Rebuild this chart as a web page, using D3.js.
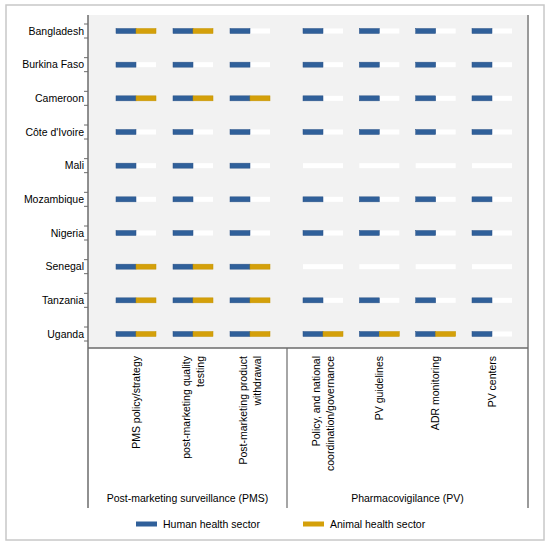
<!DOCTYPE html>
<html>
<head>
<meta charset="utf-8">
<script src="https://cdn.jsdelivr.net/npm/d3@7"></script>
<style>
  body { margin: 0; background: #fff; }
  svg text { font-family: "Liberation Sans", Arial, sans-serif; fill: #000; }
</style>
</head>
<body>
<svg id="chart" width="550" height="545"></svg>
<script>
// countries, top to bottom
const countries = ["Bangladesh", "Burkina Faso", "Cameroon", "Côte d'Ivoire", "Mali",
                   "Mozambique", "Nigeria", "Senegal", "Tanzania", "Uganda"];

// indicator columns per group
const pmsColumns = ["PMS policy/strategy", "post-marketing quality testing", "Post-marketing product withdrawal"];
const pvColumns = ["Policy, and national coordination/governance", "PV guidelines", "ADR monitoring", "PV centers"];

// wrapped labels for the columns (one array of lines per column)
const columnLabels = {
  "PMS policy/strategy": ["PMS policy/strategy"],
  "post-marketing quality testing": ["post-marketing quality", "testing"],
  "Post-marketing product withdrawal": ["Post-marketing product", "withdrawal"],
  "Policy, and national coordination/governance": ["Policy, and national", "coordination/governance"],
  "PV guidelines": ["PV guidelines"],
  "ADR monitoring": ["ADR monitoring"],
  "PV centers": ["PV centers"]
};

const groups = [
  { name: "Post-marketing surveillance (PMS)", columns: pmsColumns },
  { name: "Pharmacovigilance (PV)", columns: pvColumns }
];

// 1 = present, 0 = absent; one row per country, columns PMS(3) then PV(4)
const humanSector = [
  [1, 1, 1, 1, 1, 1, 1],
  [1, 1, 1, 1, 1, 1, 1],
  [1, 1, 1, 1, 1, 1, 1],
  [1, 1, 1, 1, 1, 1, 1],
  [1, 1, 1, 0, 0, 0, 0],
  [1, 1, 1, 1, 1, 1, 1],
  [1, 1, 1, 1, 1, 1, 1],
  [1, 1, 1, 0, 0, 0, 0],
  [1, 1, 1, 1, 1, 1, 1],
  [1, 1, 1, 1, 1, 1, 1]
];
const animalSector = [
  [1, 1, 0, 0, 0, 0, 0],
  [0, 0, 0, 0, 0, 0, 0],
  [1, 1, 1, 0, 0, 0, 0],
  [0, 0, 0, 0, 0, 0, 0],
  [0, 0, 0, 0, 0, 0, 0],
  [0, 0, 0, 0, 0, 0, 0],
  [0, 0, 0, 0, 0, 0, 0],
  [1, 1, 1, 0, 0, 0, 0],
  [1, 1, 1, 0, 0, 0, 0],
  [1, 1, 1, 1, 1, 1, 0]
];

const sectors = ["Human health sector", "Animal health sector"];
const sectorColors = ["#30609a", "#d4a00a"];

const svg = d3.select("svg#chart");

// outer frame
svg.append("rect")
  .attr("x", 6).attr("y", 5)
  .attr("width", 538).attr("height", 535)
  .attr("fill", "none")
  .attr("stroke", "#c8c8c8")
  .attr("stroke-width", 1.5);

const plot = { left: 88, right: 528, top: 15, bottom: 348, sep: 287, base: 508 };

svg.append("rect")
  .attr("x", plot.left).attr("y", plot.top)
  .attr("width", plot.right - plot.left).attr("height", plot.bottom - plot.top)
  .attr("fill", "#f2f2f2");

const y = d3.scalePoint()
  .domain(countries)
  .range([31, 334]);

// one x scale per group
const xScales = [
  d3.scalePoint().domain(pmsColumns).range([136, 250]),
  d3.scalePoint().domain(pvColumns).range([323, 492])
];

const allColumns = pmsColumns.concat(pvColumns);
function colX(col) {
  return pmsColumns.includes(col) ? xScales[0](col) : xScales[1](col);
}

const segW = 20, segH = 5;

// cells
const cells = [];
countries.forEach(function(c, i) {
  allColumns.forEach(function(col, j) {
    cells.push({ country: c, column: col, human: humanSector[i][j], animal: animalSector[i][j] });
  });
});

const cellG = svg.append("g").attr("class", "cells")
  .selectAll("g")
  .data(cells)
  .enter().append("g")
  .attr("transform", function(d) { return "translate(" + colX(d.column) + "," + y(d.country) + ")"; });

cellG.append("rect")
  .attr("x", -segW).attr("y", -segH / 2)
  .attr("width", segW * 2).attr("height", segH)
  .attr("fill", "#fff");

cellG.filter(function(d) { return d.human; })
  .append("rect")
  .attr("x", -segW).attr("y", -segH / 2)
  .attr("width", segW).attr("height", segH)
  .attr("fill", sectorColors[0])
  .attr("stroke", "#2a5287").attr("stroke-width", 0.5);

cellG.filter(function(d) { return d.animal; })
  .append("rect")
  .attr("x", 0).attr("y", -segH / 2)
  .attr("width", segW).attr("height", segH)
  .attr("fill", sectorColors[1])
  .attr("stroke", "#c29200").attr("stroke-width", 0.5);

// axes lines
const lineColor = "#6b6b6b";
svg.append("line")
  .attr("x1", plot.left).attr("x2", plot.left)
  .attr("y1", plot.top).attr("y2", plot.base)
  .attr("stroke", lineColor).attr("stroke-width", 1.5);
svg.append("line")
  .attr("x1", plot.right).attr("x2", plot.right)
  .attr("y1", plot.top).attr("y2", plot.base)
  .attr("stroke", "#9a9a9a").attr("stroke-width", 2);
svg.append("line")
  .attr("x1", plot.left).attr("x2", plot.right)
  .attr("y1", plot.bottom).attr("y2", plot.bottom)
  .attr("stroke", lineColor).attr("stroke-width", 1.5);
svg.append("line")
  .attr("x1", plot.sep).attr("x2", plot.sep)
  .attr("y1", plot.bottom).attr("y2", plot.base)
  .attr("stroke", lineColor).attr("stroke-width", 1.2);

// y ticks (above and below each row) and labels
const yAxis = svg.append("g").attr("class", "y-axis");
countries.forEach(function(c) {
  [-7, 7].forEach(function(off) {
    yAxis.append("line")
      .attr("x1", plot.left - 4).attr("x2", plot.left)
      .attr("y1", y(c) + off).attr("y2", y(c) + off)
      .attr("stroke", lineColor).attr("stroke-width", 1);
  });
});
yAxis.selectAll("text")
  .data(countries)
  .enter().append("text")
  .attr("x", plot.left - 4)
  .attr("y", function(d) { return y(d); })
  .attr("dy", "0.35em")
  .attr("text-anchor", "end")
  .style("font-size", "10.5px")
  .text(function(d) { return d; });

// column labels, rotated
const labelTop = 356, lineGap = 14;
allColumns.forEach(function(col) {
  const lines = columnLabels[col];
  const x0 = colX(col) - (lines.length - 1) * lineGap / 2;
  lines.forEach(function(line, k) {
    const lx = x0 + k * lineGap;
    svg.append("text")
      .attr("transform", "translate(" + lx + "," + labelTop + ") rotate(-90)")
      .attr("dy", "0.35em")
      .attr("text-anchor", "end")
      .style("font-size", "10.5px")
      .text(line);
  });
});

// group labels
const groupBounds = [[plot.left, plot.sep], [plot.sep, plot.right]];
svg.selectAll("text.group")
  .data(groups)
  .enter().append("text")
  .attr("class", "group")
  .attr("x", function(d, i) { return (groupBounds[i][0] + groupBounds[i][1]) / 2; })
  .attr("y", 502)
  .attr("text-anchor", "middle")
  .style("font-size", "10.5px")
  .text(function(d) { return d.name; });

// legend
const legendX = [136, 303];
const legend = svg.append("g").attr("class", "legend")
  .selectAll("g")
  .data(sectors)
  .enter().append("g")
  .attr("transform", function(d, i) { return "translate(" + legendX[i] + ",524)"; });

legend.append("rect")
  .attr("x", 0).attr("y", -2.5)
  .attr("width", 21).attr("height", 5)
  .attr("fill", function(d, i) { return sectorColors[i]; });

legend.append("text")
  .attr("x", 27).attr("y", 0)
  .attr("dy", "0.35em")
  .style("font-size", "10.5px")
  .text(function(d) { return d; });
</script>
</body>
</html>
